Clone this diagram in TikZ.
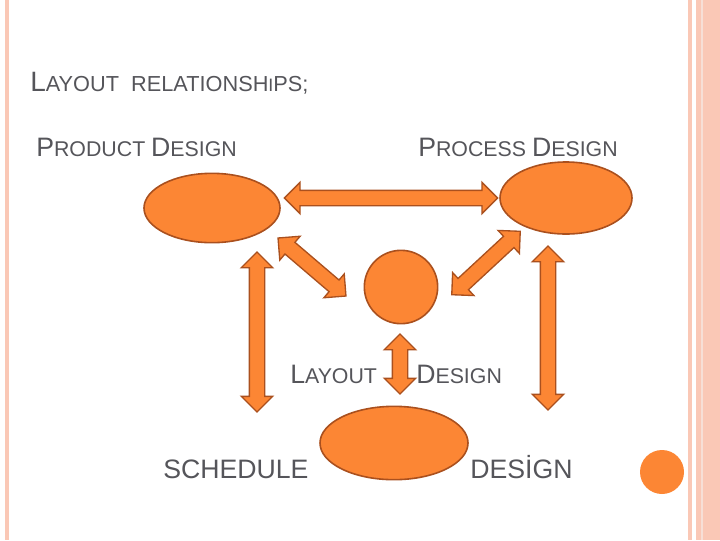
\documentclass[tikz,border=0pt]{standalone}
\usepackage{fontspec}
\setmainfont{Liberation Sans}
\usetikzlibrary{shapes.geometric,shapes.arrows}
\definecolor{blob}{RGB}{252,134,52}
\definecolor{rim}{RGB}{170,80,30}
\definecolor{ink}{RGB}{85,85,90}
\definecolor{stripe}{RGB}{250,200,182}
\newcommand{\fsz}[2]{{\fontsize{#1}{#1}\selectfont #2}}
\tikzset{
  blobby/.style={ellipse,fill=blob,draw=rim,line width=1.2pt},
  dblarrow/.style={double arrow,fill=blob,draw=rim,line width=1pt,inner xsep=0pt,inner ysep=5.25pt,
    double arrow head extend=6pt,double arrow head indent=0pt},
  caption/.style={text=ink,anchor=base west,inner sep=0pt},
}
\begin{document}
\begin{tikzpicture}[x=0.75pt,y=-0.75pt]
\useasboundingbox (0,0) rectangle (720,540);
% frame stripes
\fill[stripe] (5,0) rectangle (9,540);
\fill[stripe] (688,0) rectangle (692,540);
\fill[stripe] (696,0) rectangle (720,540);
\fill[stripe!80!rim!40] (701,0) rectangle (703,540);

\node[caption] (title) at (30,91) {\fsz{21}{L}\fsz{16.3}{AYOUT\ \ RELATIONSH}\fsz{13.5}{I}\fsz{16.3}{PS;}};
\node[caption] (prodtxt) at (36,156) {\fsz{20}{P}\fsz{16}{RODUCT }\fsz{20}{D}\fsz{16}{ESIGN}};
\node[caption] (proctxt) at (418,156) {\fsz{20}{P}\fsz{16}{ROCESS }\fsz{20}{D}\fsz{16}{ESIGN}};
\node[caption] (laytxt) at (290,383) {\fsz{20}{L}\fsz{16}{AYOUT}};
\node[caption] (destxt) at (416,383) {\fsz{20}{D}\fsz{16}{ESIGN}};
\node[caption] (schtxt) at (163,478) {\fsz{20}{SCHEDULE}};
\node[caption] (des2txt) at (470,478) {\fsz{20}{DESİGN}};

% blobs
\node[blobby,minimum width=102pt,minimum height=52pt] (prod) at (212,208) {};
\node[blobby,minimum width=99pt,minimum height=54pt] (proc) at (566,198) {};
\node[blobby,circle,minimum size=55pt] (lay) at (401,287) {};
\node[blobby,minimum width=111pt,minimum height=55pt] (sched) at (394,443) {};
\node[circle,fill=blob,minimum size=33pt] (dot) at (662,472) {};

% block arrows
\node[dblarrow,minimum height=160pt] (pp) at (391,198) {};
\node[dblarrow,minimum height=67pt,rotate=-40.5] (pl) at (312,267) {};
\node[dblarrow,minimum height=70pt,rotate=42.8] (lp) at (486,263) {};
\node[dblarrow,minimum height=120pt,rotate=90] (ps) at (257,332) {};
\node[dblarrow,minimum height=123pt,rotate=90] (pd) at (548,328) {};
\node[dblarrow,minimum height=45pt,rotate=90] (ld) at (400,364) {};
\end{tikzpicture}
\end{document}
